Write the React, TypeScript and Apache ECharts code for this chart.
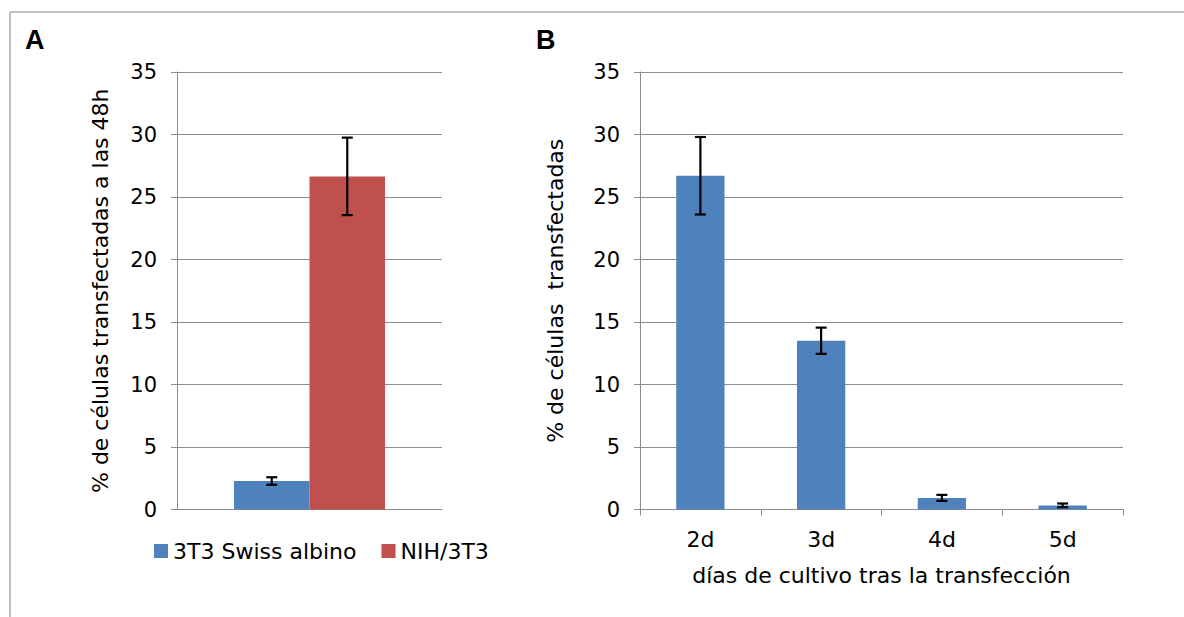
import React, { useEffect, useRef } from "react";
import * as echarts from "echarts";

// ---- Panel A data ----
const panelACategories = [""];
const seriesNamesA = ["3T3 Swiss albino", "NIH/3T3"];
const swissValues = [2.28];
const swissErrors = [0.3];
const nihValues = [26.65];
const nihErrors = [3.1];

// ---- Panel B data ----
const daysCategories = ["2d", "3d", "4d", "5d"];
const daysValues = [26.7, 13.5, 0.93, 0.33];
const daysErrors = [3.1, 1.05, 0.24, 0.15];

// ---- Shared y-axis ticks ----
const yMin = 0;
const yMax = 35;
const yInterval = 5;

const FONT = "DejaVu Sans";
const BLUE = "#4F81BD";
const RED = "#C0504D";
const GRID = "#8c8c8c";
const CAT_GAP_A = 0.43;

function errorBarRender(catGap: number, nBars: number) {
  return (params: any, api: any) => {
    const x = api.value(0);
    const v = api.value(1);
    const e = api.value(2);
    const sign = api.value(3);
    const band = api.size([1, 0])[0];
    const barW = (band * (1 - catGap)) / nBars;
    const off = sign * (barW / 2);
    const top = api.coord([x, v + e]);
    const bot = api.coord([x, v - e]);
    const cx = top[0] + off;
    const hw = 5.5;
    const st = { stroke: "#000", lineWidth: 2.2 };
    return {
      type: "group",
      children: [
        { type: "line", shape: { x1: cx, y1: top[1], x2: cx, y2: bot[1] }, style: st },
        { type: "line", shape: { x1: cx - hw, y1: top[1], x2: cx + hw, y2: top[1] }, style: st },
        { type: "line", shape: { x1: cx - hw, y1: bot[1], x2: cx + hw, y2: bot[1] }, style: st },
      ],
    };
  };
}

const yAxisBase = (gridIndex: number, name: string, nameGap: number) => ({
  type: "value",
  gridIndex,
  min: yMin,
  max: yMax,
  interval: yInterval,
  name,
  nameLocation: "middle",
  nameRotate: 90,
  nameGap,
  nameTextStyle: { fontFamily: FONT, fontSize: 22, color: "#000" },
  axisLine: { show: true, lineStyle: { color: GRID, width: 1 } },
  axisTick: { show: true, length: 6, lineStyle: { color: GRID } },
  splitLine: { show: true, lineStyle: { color: GRID, width: 1 } },
  axisLabel: { fontFamily: FONT, fontSize: 21, color: "#000", margin: 20 },
});

export default function App() {
  const ref = useRef<HTMLDivElement>(null);
  useEffect(() => {
    if (!ref.current) return;
    const chart = echarts.init(ref.current, null, { renderer: "svg" });
    const option: any = {
      animation: false,
      backgroundColor: "#fff",
      grid: [
        { left: 177, right: 1184 - 442, top: 72, bottom: 617 - 509.5 },
        { left: 640, right: 1184 - 1123, top: 72, bottom: 617 - 509.5 },
      ],
      legend: {
        left: 149,
        top: 535,
        icon: "rect",
        itemWidth: 14,
        itemHeight: 14,
        itemGap: 25,
        data: seriesNamesA,
        textStyle: { fontFamily: FONT, fontSize: 22, color: "#000" },
      },
      xAxis: [
        {
          type: "category",
          gridIndex: 0,
          data: panelACategories,
          axisLine: { show: true, lineStyle: { color: GRID } },
          axisTick: { show: false },
          axisLabel: { show: false },
        },
        {
          type: "category",
          gridIndex: 1,
          data: daysCategories,
          name: "días de cultivo tras la transfección",
          nameLocation: "middle",
          nameGap: 55,
          nameTextStyle: { fontFamily: FONT, fontSize: 22, color: "#000" },
          axisLine: { show: true, lineStyle: { color: GRID } },
          axisTick: { show: true, length: 6, lineStyle: { color: GRID } },
          axisLabel: { fontFamily: FONT, fontSize: 22, color: "#000", margin: 19 },
        },
      ],
      yAxis: [
        yAxisBase(0, "% de células transfectadas a las 48h", 66),
        yAxisBase(1, "% de células  transfectadas", 74),
      ],
      series: [
        {
          name: seriesNamesA[0],
          type: "bar",
          xAxisIndex: 0,
          yAxisIndex: 0,
          data: swissValues,
          barGap: "0%",
          barCategoryGap: CAT_GAP_A * 100 + "%",
          itemStyle: { color: BLUE },
        },
        {
          name: seriesNamesA[1],
          type: "bar",
          xAxisIndex: 0,
          yAxisIndex: 0,
          data: nihValues,
          barGap: "0%",
          barCategoryGap: CAT_GAP_A * 100 + "%",
          itemStyle: { color: RED },
        },
        {
          type: "custom",
          xAxisIndex: 0,
          yAxisIndex: 0,
          z: 5,
          encode: { x: 0, y: 1 },
          renderItem: errorBarRender(CAT_GAP_A, 2),
          data: [
            ...panelACategories.map((_, i) => [i, swissValues[i], swissErrors[i], -1]),
            ...panelACategories.map((_, i) => [i, nihValues[i], nihErrors[i], 1]),
          ],
        },
        {
          name: "B",
          type: "bar",
          xAxisIndex: 1,
          yAxisIndex: 1,
          data: daysValues,
          barCategoryGap: "60%",
          itemStyle: { color: BLUE },
        },
        {
          type: "custom",
          xAxisIndex: 1,
          yAxisIndex: 1,
          z: 5,
          encode: { x: 0, y: 1 },
          renderItem: errorBarRender(0.6, 1),
          data: daysCategories.map((_, i) => [i, daysValues[i], daysErrors[i], 0]),
        },
      ],
      graphic: [
        { type: "line", shape: { x1: 10, y1: 12, x2: 1184, y2: 12 }, style: { stroke: "#c0c0c0", lineWidth: 2 } },
        { type: "line", shape: { x1: 10, y1: 12, x2: 10, y2: 617 }, style: { stroke: "#c0c0c0", lineWidth: 2 } },
        {
          type: "text",
          left: 25,
          top: 26,
          style: { text: "A", fontFamily: "Liberation Sans", fontWeight: "bold", fontSize: 27, fill: "#000" },
        },
        {
          type: "text",
          left: 536,
          top: 26,
          style: { text: "B", fontFamily: "Liberation Sans", fontWeight: "bold", fontSize: 27, fill: "#000" },
        },
      ],
    };
    chart.setOption(option);
    return () => chart.dispose();
  }, []);
  return (
    <div
      ref={ref}
      style={{ position: "fixed", left: 0, top: 0, width: 1184, height: 617, background: "#fff" }}
    />
  );
}
